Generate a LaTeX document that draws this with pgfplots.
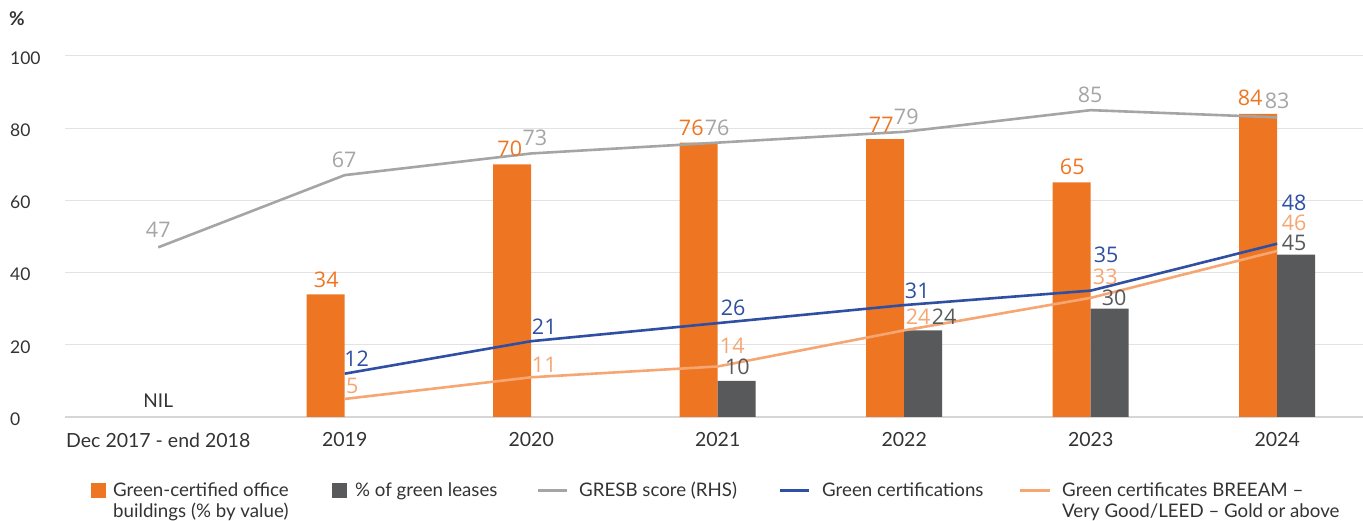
\documentclass[border=0pt]{standalone}
\usepackage{fontspec}
\setmainfont{Lato}
\newfontfamily\labfont{Open Sans}
\usepackage{pgfplots}
\pgfplotsset{compat=1.18}
\definecolor{orng}{HTML}{EE7623}
\definecolor{dgray}{HTML}{58595B}
\definecolor{lgray}{HTML}{A5A5A5}
\definecolor{blu}{HTML}{2F4FA2}
\definecolor{lorng}{HTML}{F5A672}
\definecolor{gridc}{HTML}{E3E3E3}
\definecolor{basec}{HTML}{D6D6D6}
\definecolor{txt}{HTML}{333333}
\pgfplotsset{
  lbl/.style={draw=none, mark=none, nodes near coords, point meta=explicit symbolic,
    every node near coord/.style={anchor=center, inner sep=0pt, font=\labfont\fontsize{21.5}{26}\selectfont, text=#1}},
}
\begin{document}
\begin{tikzpicture}[x=1pt,y=1pt]
\useasboundingbox (0,0) rectangle (1363,521);
\begin{axis}[
  at={(65pt,104pt)}, anchor=south west,
  scale only axis, width=1298pt, height=361pt,
  xmin=-0.5, xmax=6.46, ymin=0, ymax=100,
  axis line style={draw=none},
  major tick length=0pt,
  ytick={20,40,...,100},
  extra y ticks={0},
  extra y tick style={grid style={basec, line width=2pt}},
  ymajorgrids, grid style={gridc, line width=1pt},
  xtick={0,...,6},
  xticklabels={Dec 2017 - end 2018,2019,2020,2021,2022,2023,2024},
  xticklabel style={font=\fontsize{19.5}{22}\selectfont, text=txt, anchor=center, inner sep=0pt, yshift=-23pt},
  yticklabel style={font=\fontsize{17.5}{20}\selectfont, text=txt, anchor=west, inner sep=0pt, xshift=-55pt, yshift=-2pt},
  /pgf/number format/assume math mode=true,
  clip=false,
]
% bars
\addplot[ybar, bar width=38pt, bar shift=-19pt, fill=orng, draw=none]
  coordinates {(1,34) (2,70) (3,76) (4,77) (5,65) (6,84)};
\addplot[ybar, bar width=38pt, bar shift=19pt, fill=dgray, draw=none]
  coordinates {(3,10) (4,24) (5,30) (6,45)};
% lines
\addplot[lgray, line width=2.6pt, mark=none]
  coordinates {(0,47) (1,67) (2,73) (3,76) (4,79) (5,85) (6,83)};
\addplot[blu, line width=2.6pt, mark=none]
  coordinates {(1,12) (2,21) (3,26) (4,31) (5,35) (6,48)};
\addplot[lorng, line width=2.6pt, mark=none]
  coordinates {(1,5) (2,11) (3,14) (4,24) (5,33) (6,46)};
% data labels
\addplot[lbl=orng] table[meta=l] {
x y l
0.901 37.95 34
1.885 74.2 70
2.858 80.1 76
3.877 80.9 77
4.901 69.3 65
5.855 88.4 84
};
\addplot[lbl=dgray] table[meta=l] {
x y l
3.105 13.85 10
4.214 27.7 24
5.126 33.0 30
6.091 48.3 45
};
\addplot[lbl=lgray] table[meta=l] {
x y l
0 51.8 47
0.997 71.2 67
2.02 77.3 73
2.997 80.1 76
4.011 83.1 79
4.997 89.2 85
6.0 87.5 83
};
\addplot[lbl=blu] table[meta=l] {
x y l
1.064 16.1 12
2.07 24.9 21
3.083 30.2 26
4.07 34.9 31
5.083 44.9 35
6.091 59.3 48
};
\addplot[lbl=lorng] table[meta=l] {
x y l
1.040 8.6 5
2.07 14.4 11
3.078 19.7 14
4.075 27.7 24
5.078 38.8 33
6.091 53.9 46
};
\addplot[draw=none, mark=none, nodes near coords, point meta=explicit symbolic,
  every node near coord/.style={anchor=center, inner sep=0pt, font=\fontsize{19}{22}\selectfont, text=txt}]
  table[meta=l] {
x y l
0 4.4 NIL
};
\end{axis}
% unit label
\node[anchor=base west, inner sep=0pt, font=\fontsize{19}{22}\selectfont\bfseries, text=txt] at (9,495) {\%};
% legend
\begin{scope}[font=\fontsize{18.7}{21}\selectfont, text=txt]
\fill[orng] (91,23) rectangle (106,38);
\node[anchor=base west, inner sep=0pt] at (113,24) {Green-certified office};
\node[anchor=base west, inner sep=0pt] at (113,3) {buildings (\% by value)};
\fill[dgray] (332,23) rectangle (347,38);
\node[anchor=base west, inner sep=0pt] at (355,24) {\% of green leases};
\draw[lgray, line width=3pt] (538,30) -- (567,30);
\node[anchor=base west, inner sep=0pt] at (579,24) {GRESB score (RHS)};
\draw[blu, line width=3pt] (780,30) -- (809,30);
\node[anchor=base west, inner sep=0pt] at (822,24) {Green certifications};
\draw[lorng, line width=3pt] (1020,30) -- (1050,30);
\node[anchor=base west, inner sep=0pt] at (1062,24) {Green certificates BREEAM –};
\node[anchor=base west, inner sep=0pt] at (1062,3) {Very Good/LEED – Gold or above};
\end{scope}
\end{tikzpicture}
\end{document}
